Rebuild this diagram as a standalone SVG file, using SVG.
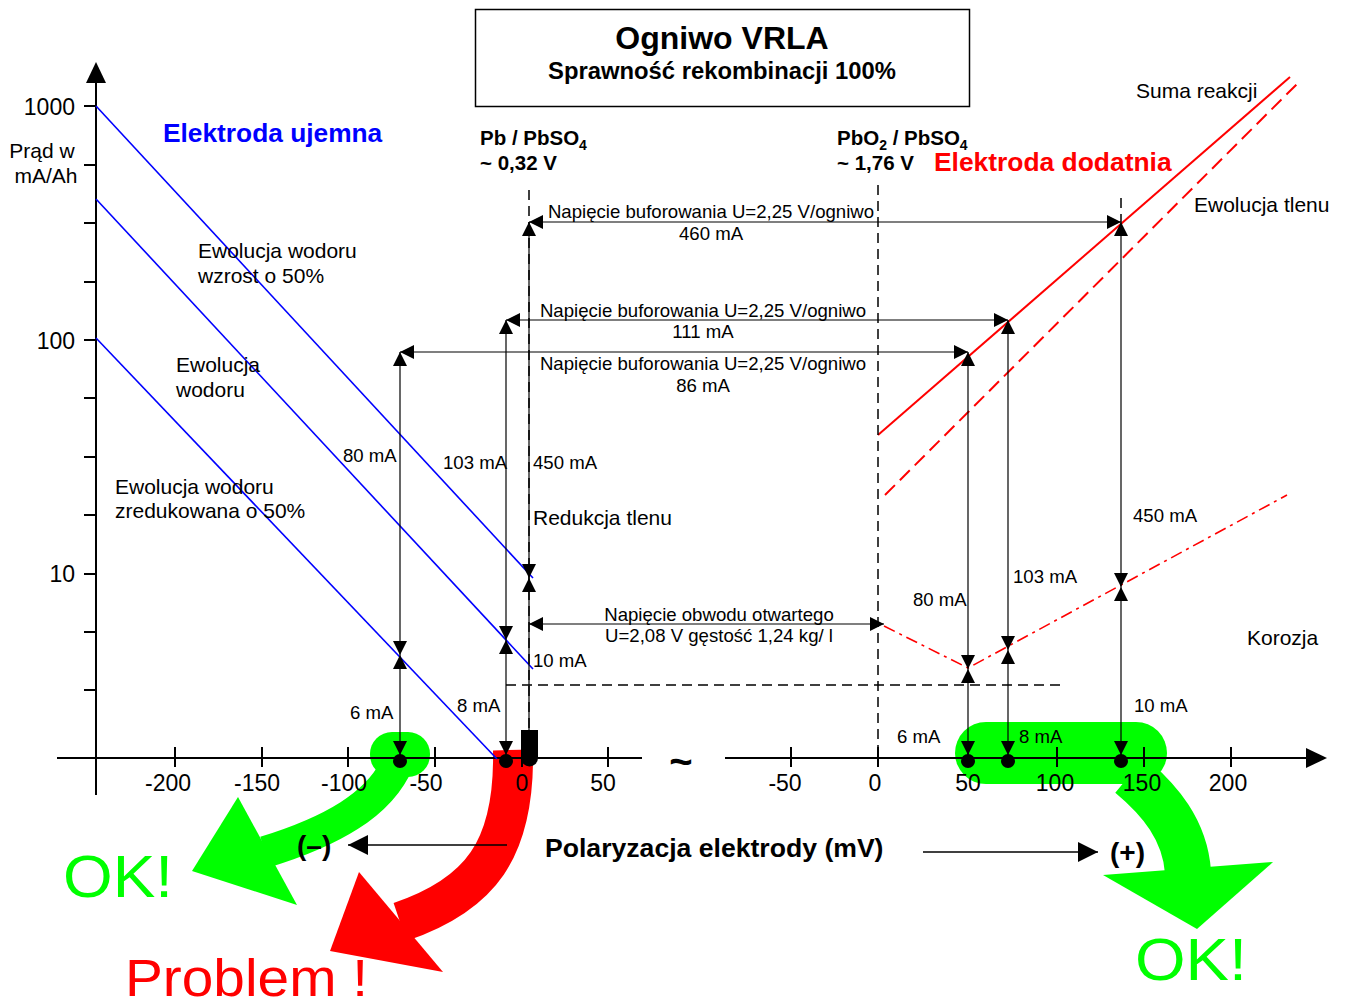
<svg xmlns="http://www.w3.org/2000/svg" width="1346" height="1002" viewBox="0 0 1346 1002">
<style>
text{font-family:"Liberation Sans",Arial,sans-serif;fill:#000}
.b{font-weight:bold}
.t21{font-size:21px}
.t18{font-size:18.6px}
.t23{font-size:23px}
.ax{stroke:#000;stroke-width:2;fill:none}
.tk{stroke:#000;stroke-width:2}
.arr{stroke:#000;stroke-width:1.2;fill:none;marker-start:url(#ah);marker-end:url(#ah)}
.arr1{stroke:#000;stroke-width:1.2;fill:none;marker-end:url(#ah)}
.dash{stroke:#000;stroke-width:1.5;stroke-dasharray:10,6;fill:none}
.blue{stroke:#0000ff;stroke-width:1.6;fill:none}
.dot{fill:#000}
</style>
<defs>
<marker id="ah" viewBox="0 0 14 14" refX="14" refY="7" markerWidth="14" markerHeight="14" markerUnits="userSpaceOnUse" orient="auto-start-reverse"><path d="M0,0 L14,7 L0,14 z" fill="#000"/></marker>
<marker id="ah2" viewBox="0 0 20 20" refX="20" refY="10" markerWidth="20" markerHeight="20" markerUnits="userSpaceOnUse" orient="auto"><path d="M0,0 L20,10 L0,20 z" fill="#000"/></marker>
</defs>
<rect width="1346" height="1002" fill="#fff"/>

<!-- highlight arrows -->
<g id="highlights">
<rect x="370" y="732" width="60" height="45" rx="22" fill="#00ff00"/>
<path d="M398,762 C380,805 330,832 265,852" stroke="#00ff00" stroke-width="32" fill="none"/>
<polygon points="238,797 192,871 297,905" fill="#00ff00"/>
<path d="M513,750 C515,850 480,895 400,922" stroke="#ff0000" stroke-width="40" fill="none"/>
<polygon points="359,872 330,951 443,972" fill="#ff0000"/>
<rect x="955" y="722" width="212" height="62" rx="31" fill="#00ff00"/>
<path d="M1130,775 C1160,800 1185,830 1188,872" stroke="#00ff00" stroke-width="46" fill="none"/>
<polygon points="1103,875 1273,862 1197,929" fill="#00ff00"/>
</g>

<!-- title -->
<g id="title">
<rect x="475.5" y="9.5" width="494" height="97" fill="none" stroke="#000" stroke-width="1.5"/>
<text x="722" y="49" text-anchor="middle" class="b" font-size="32">Ogniwo VRLA</text>
<text x="722" y="79" text-anchor="middle" class="b" font-size="23.8">Sprawność rekombinacji 100%</text>
</g>

<!-- axes -->
<g id="axes">
<line x1="96" y1="80" x2="96" y2="795" class="ax"/>
<polygon points="96,62 86,83 106,83" fill="#000"/>
<g class="tk">
<line x1="84" y1="106" x2="96" y2="106"/>
<line x1="84" y1="165" x2="96" y2="165"/>
<line x1="84" y1="223" x2="96" y2="223"/>
<line x1="84" y1="282" x2="96" y2="282"/>
<line x1="84" y1="340" x2="96" y2="340"/>
<line x1="84" y1="398" x2="96" y2="398"/>
<line x1="84" y1="457" x2="96" y2="457"/>
<line x1="84" y1="515" x2="96" y2="515"/>
<line x1="84" y1="574" x2="96" y2="574"/>
<line x1="84" y1="632" x2="96" y2="632"/>
<line x1="84" y1="690" x2="96" y2="690"/>
</g>
<text x="75" y="115" text-anchor="end" class="t23">1000</text>
<text x="75" y="349" text-anchor="end" class="t23">100</text>
<text x="75" y="582" text-anchor="end" class="t23">10</text>
<text x="42" y="158" text-anchor="middle" class="t21">Prąd w</text>
<text x="46" y="183" text-anchor="middle" class="t21">mA/Ah</text>

<line x1="57" y1="758" x2="642" y2="758" class="ax"/>
<line x1="725" y1="758" x2="1308" y2="758" class="ax"/>
<polygon points="1327,758 1306,748 1306,768" fill="#000"/>
<g class="tk">
<line x1="175" y1="747" x2="175" y2="767"/>
<line x1="262" y1="747" x2="262" y2="767"/>
<line x1="348" y1="747" x2="348" y2="767"/>
<line x1="435" y1="747" x2="435" y2="767"/>
<line x1="522" y1="747" x2="522" y2="767"/>
<line x1="608" y1="747" x2="608" y2="767"/>
<line x1="791" y1="747" x2="791" y2="767"/>
<line x1="878" y1="747" x2="878" y2="767"/>
<line x1="968" y1="747" x2="968" y2="767"/>
<line x1="1057" y1="747" x2="1057" y2="767"/>
<line x1="1144" y1="747" x2="1144" y2="767"/>
<line x1="1231" y1="747" x2="1231" y2="767"/>
</g>
<g class="t23" text-anchor="middle">
<text x="168" y="791">-200</text>
<text x="257" y="791">-150</text>
<text x="344" y="791">-100</text>
<text x="426" y="791">-50</text>
<text x="522" y="791">0</text>
<text x="603" y="791">50</text>
<text x="785" y="791">-50</text>
<text x="875" y="791">0</text>
<text x="968" y="791">50</text>
<text x="1055" y="791">100</text>
<text x="1142" y="791">150</text>
<text x="1228" y="791">200</text>
</g>
<text x="681" y="775" text-anchor="middle" class="b" font-size="40">~</text>
</g>

<!-- curves -->
<g id="curves">
<line x1="96" y1="106" x2="533" y2="578" class="blue"/>
<line x1="96" y1="199" x2="533" y2="669" class="blue"/>
<line x1="96" y1="338" x2="497" y2="759" class="blue"/>
<line x1="878" y1="435" x2="1290" y2="77" stroke="#ff0000" stroke-width="2"/>
<line x1="885" y1="495" x2="1297" y2="84" stroke="#ff0000" stroke-width="2" stroke-dasharray="14,7"/>
<polyline points="884,626 968,668 1287,495" fill="none" stroke="#ff0000" stroke-width="1.6" stroke-dasharray="12,5,3,5"/>
</g>

<!-- reference lines -->
<g id="reference-lines">
<line x1="529" y1="190" x2="529" y2="758" class="dash"/>
<line x1="878" y1="185" x2="878" y2="758" class="dash"/>
<line x1="1121" y1="198" x2="1121" y2="222" class="dash" stroke-width="1"/>
<line x1="506" y1="685" x2="1066" y2="685" class="dash" stroke-width="1.2" stroke-dasharray="10,7"/>
</g>

<!-- connectors -->
<g id="connectors">
<line x1="529" y1="222" x2="1121" y2="222" class="arr"/>
<line x1="506" y1="320" x2="1008" y2="320" class="arr"/>
<line x1="400" y1="352" x2="968" y2="352" class="arr"/>
<line x1="529" y1="624" x2="884" y2="624" class="arr"/>

<line x1="400" y1="352" x2="400" y2="655" class="arr"/>
<line x1="400" y1="655" x2="400" y2="755" class="arr"/>
<line x1="506" y1="320" x2="506" y2="640" class="arr"/>
<line x1="506" y1="640" x2="506" y2="755" class="arr"/>
<line x1="529" y1="222" x2="529" y2="578" class="arr" stroke-width="1.6"/>
<line x1="529" y1="732" x2="529" y2="578" class="arr1" stroke-width="1.6"/>

<line x1="968" y1="352" x2="968" y2="669" class="arr"/>
<line x1="968" y1="669" x2="968" y2="755" class="arr"/>
<line x1="1008" y1="320" x2="1008" y2="650" class="arr"/>
<line x1="1008" y1="650" x2="1008" y2="755" class="arr"/>
<line x1="1121" y1="222" x2="1121" y2="587" class="arr"/>
<line x1="1121" y1="587" x2="1121" y2="755" class="arr"/>

<line x1="507" y1="845" x2="348" y2="845" stroke="#000" stroke-width="1.5" marker-end="url(#ah2)"/>
<line x1="923" y1="852" x2="1098" y2="852" stroke="#000" stroke-width="1.5" marker-end="url(#ah2)"/>

<circle cx="400" cy="761" r="7" class="dot"/>
<circle cx="506" cy="761" r="7" class="dot"/>
<circle cx="968" cy="761" r="7" class="dot"/>
<circle cx="1008" cy="761" r="7" class="dot"/>
<circle cx="1121" cy="761" r="7" class="dot"/>
<path d="M521,730 H538 V758 A8.5,8.5 0 0 1 521,758 Z" fill="#000"/>
</g>

<!-- labels -->
<g id="labels">
<text x="163" y="142" class="b" font-size="26.3" style="fill:#0000ff">Elektroda ujemna</text>
<text x="934" y="171" class="b" font-size="26.4" style="fill:#ff0000">Elektroda dodatnia</text>
<text x="480" y="145" class="b" font-size="20.5">Pb / PbSO<tspan font-size="14" dy="5">4</tspan></text>
<text x="480" y="170" class="b" font-size="20.5">~ 0,32 V</text>
<text x="837" y="145" class="b" font-size="20.5">PbO<tspan font-size="14" dy="5">2</tspan><tspan dy="-5"> / PbSO</tspan><tspan font-size="14" dy="5">4</tspan></text>
<text x="837" y="170" class="b" font-size="20.5">~ 1,76 V</text>

<text x="1136" y="98" class="t21">Suma reakcji</text>
<text x="1194" y="212" class="t21">Ewolucja tlenu</text>
<text x="1247" y="645" class="t21">Korozja</text>

<text x="198" y="258" class="t21">Ewolucja wodoru</text>
<text x="198" y="283" class="t21">wzrost o 50%</text>
<text x="176" y="372" class="t21">Ewolucja</text>
<text x="176" y="397" class="t21">wodoru</text>
<text x="115" y="494" class="t21">Ewolucja wodoru</text>
<text x="115" y="518" class="t21">zredukowana o 50%</text>
<text x="533" y="525" class="t21">Redukcja tlenu</text>

<g class="t18" text-anchor="middle">
<text x="711" y="218">Napięcie buforowania U=2,25 V/ogniwo</text>
<text x="711" y="240">460 mA</text>
<text x="703" y="317">Napięcie buforowania U=2,25 V/ogniwo</text>
<text x="703" y="338">111 mA</text>
<text x="703" y="370">Napięcie buforowania U=2,25 V/ogniwo</text>
<text x="703" y="392">86 mA</text>
<text x="719" y="621">Napięcie obwodu otwartego</text>
<text x="719" y="642">U=2,08 V gęstość 1,24 kg/ l</text>
</g>
<g class="t18">
<text x="343" y="462">80 mA</text>
<text x="443" y="469">103 mA</text>
<text x="533" y="469">450 mA</text>
<text x="350" y="719">6 mA</text>
<text x="457" y="712">8 mA</text>
<text x="533" y="667">10 mA</text>
<text x="913" y="606">80 mA</text>
<text x="1013" y="583">103 mA</text>
<text x="1133" y="522">450 mA</text>
<text x="1134" y="712">10 mA</text>
<text x="897" y="743">6 mA</text>
<text x="1019" y="743">8 mA</text>
</g>

<text x="297" y="855" class="b" font-size="28">(–)</text>
<text x="1110" y="862" class="b" font-size="28">(+)</text>
<text x="545" y="857" class="b" font-size="26.6">Polaryzacja elektrody (mV)</text>

<text x="63" y="897" font-size="60" textLength="110" lengthAdjust="spacingAndGlyphs" style="fill:#00ff00">OK!</text>
<text x="1135" y="980" font-size="60" textLength="112" lengthAdjust="spacingAndGlyphs" style="fill:#00ff00">OK!</text>
<text x="125" y="996" font-size="51" textLength="243" lengthAdjust="spacingAndGlyphs" style="fill:#ff0000">Problem !</text>
</g>
</svg>
